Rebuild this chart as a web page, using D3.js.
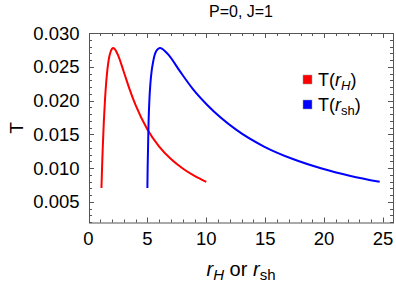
<!DOCTYPE html>
<html>
<head>
<meta charset="utf-8">
<script src="https://cdn.jsdelivr.net/npm/d3@7"></script>
<style>
  body { margin: 0; background: #fff; }
  svg { display: block; font-family: "Liberation Sans", Arial, sans-serif; }
</style>
</head>
<body>
<div id="chart"></div>
<script>
var width = 396,
    height = 283

// T(r_H): horizon radius vs temperature
var rH = [1.1, 1.15, 1.2, 1.3, 1.4, 1.5, 1.6, 1.7, 1.8, 2.0, 2.1, 2.2, 2.35, 2.5, 3.0, 3.5, 4.0, 5.0, 6.0, 7.0, 8.0, 9.0, 10.0]
var tH = [0.00705, 0.00996, 0.01254, 0.01682, 0.02012, 0.02263, 0.0245, 0.02585, 0.02677, 0.02767, 0.02776, 0.02768, 0.02731, 0.02675, 0.02423, 0.02161, 0.0193, 0.01572, 0.01318, 0.01133, 0.00993, 0.00883, 0.00795]

// T(r_sh): shadow radius vs temperature
var rSh = [5.0, 5.02, 5.05, 5.1, 5.17, 5.26, 5.37, 5.5, 5.62, 5.92, 6.08, 6.23, 6.5, 6.8, 7.8, 8.9, 10.1, 12.5, 14.9, 17.35, 19.8, 22.25, 24.72]
var tSh = [0.00705, 0.00996, 0.01254, 0.01682, 0.02012, 0.02263, 0.0245, 0.02585, 0.02677, 0.02767, 0.02776, 0.02768, 0.02731, 0.02675, 0.02423, 0.02161, 0.0193, 0.01572, 0.01318, 0.01133, 0.00993, 0.00883, 0.00795]

var xTicks = [0, 5, 10, 15, 20, 25]
var yTicks = [0.005, 0.010, 0.015, 0.020, 0.025, 0.030]

var fLeft = 89, fRight = 393, fTop = 33, fBottom = 222.5

var x = d3.scaleLinear().domain([0, 25.85]).range([88.5, fRight])
var y = d3.scaleLinear().domain([0.00193, 0.030]).range([fBottom, fTop])

var svg = d3.select('#chart').append('svg')
    .attr('width', width)
    .attr('height', height)

var frameColor = '#555'

// minor / major ticks on all four sides, pointing inward
var xMinor = d3.range(1, 26).filter(function(d) { return d % 5 != 0 })
var yMinor = d3.range(2, 31).filter(function(d) { return d % 5 != 0 }).map(function(d) { return d / 1000 })

var ticks = svg.append('g').attr('stroke', frameColor).attr('stroke-width', 1)

xTicks.concat(xMinor).forEach(function(d) {
    var len = xTicks.indexOf(d) >= 0 ? 5 : 3
    var px = Math.round(x(d)) + 0.5
    ticks.append('line').attr('x1', px).attr('x2', px).attr('y1', fBottom).attr('y2', fBottom - len)
    ticks.append('line').attr('x1', px).attr('x2', px).attr('y1', fTop).attr('y2', fTop + len)
})
yTicks.concat(yMinor).forEach(function(d) {
    var len = yTicks.some(function(t) { return Math.abs(t - d) < 1e-9 }) ? 5 : 3
    var py = Math.round(y(d)) + 0.5
    ticks.append('line').attr('y1', py).attr('y2', py).attr('x1', fLeft).attr('x2', fLeft + len)
    ticks.append('line').attr('y1', py).attr('y2', py).attr('x1', fRight).attr('x2', fRight - len)
})

// frame
svg.append('rect')
    .attr('x', fLeft + 0.5).attr('y', fTop + 0.5)
    .attr('width', fRight - fLeft).attr('height', fBottom - fTop)
    .attr('fill', 'none')
    .attr('stroke', frameColor)
    .attr('stroke-width', 1)

// tick labels
svg.append('g').selectAll('text').data(xTicks)
    .enter().append('text')
        .attr('x', function(d) { return x(d) })
        .attr('y', 244.5)
        .attr('text-anchor', 'middle')
        .attr('font-size', 18.5)
        .text(function(d) { return d })

svg.append('g').selectAll('text').data(yTicks)
    .enter().append('text')
        .attr('x', 79.5)
        .attr('y', function(d) { return y(d) + 6.5 })
        .attr('text-anchor', 'end')
        .attr('font-size', 18.5)
        .text(function(d) { return d3.format('.3f')(d) })

// curves
var line = d3.line()
    .x(function(d) { return x(d[0]) })
    .y(function(d) { return y(d[1]) })
    .curve(d3.curveMonotoneX)

svg.append('path')
    .datum(d3.zip(rH, tH))
    .attr('d', line)
    .attr('fill', 'none')
    .attr('stroke', '#ff0000')
    .attr('stroke-width', 2)

svg.append('path')
    .datum(d3.zip(rSh, tSh))
    .attr('d', line)
    .attr('fill', 'none')
    .attr('stroke', '#0000ff')
    .attr('stroke-width', 2)

// title
svg.append('text')
    .attr('x', 241)
    .attr('y', 17)
    .attr('text-anchor', 'middle')
    .attr('font-size', 16)
    .text('P=0, J=1')

// axis labels
svg.append('text')
    .attr('transform', 'translate(23,128) rotate(-90)')
    .attr('text-anchor', 'middle')
    .attr('font-size', 19)
    .text('T')

var xl = svg.append('text')
    .attr('x', 241)
    .attr('y', 276)
    .attr('text-anchor', 'middle')
    .attr('font-size', 20)
xl.append('tspan').attr('font-style', 'italic').text('r')
xl.append('tspan').attr('font-style', 'italic').attr('font-size', 15).attr('dy', 4).text('H')
xl.append('tspan').attr('dy', -4).text(' or ')
xl.append('tspan').attr('font-style', 'italic').text('r')
xl.append('tspan').attr('font-size', 15).attr('dy', 4).text('sh')

// legend
var legend = [
    { color: '#ff0000', sub: 'H', italicSub: true },
    { color: '#0000ff', sub: 'sh', italicSub: false }
]

var items = svg.append('g').selectAll('g').data(legend)
    .enter().append('g')
        .attr('transform', function(d, i) { return 'translate(303,' + (75 + i * 25) + ')' })

items.append('rect')
    .attr('width', 9).attr('height', 9)
    .attr('fill', function(d) { return d.color })
    .attr('stroke', '#999')
    .attr('stroke-width', 0.5)

var lt = items.append('text')
    .attr('x', 15)
    .attr('y', 10.5)
    .attr('font-size', 18)
lt.append('tspan').text('T(')
lt.append('tspan').attr('font-style', 'italic').text('r')
lt.append('tspan')
    .attr('font-style', function(d) { return d.italicSub ? 'italic' : 'normal' })
    .attr('font-size', 13).attr('dy', 4)
    .text(function(d) { return d.sub })
lt.append('tspan').attr('dy', -4).text(')')
</script>
</body>
</html>
